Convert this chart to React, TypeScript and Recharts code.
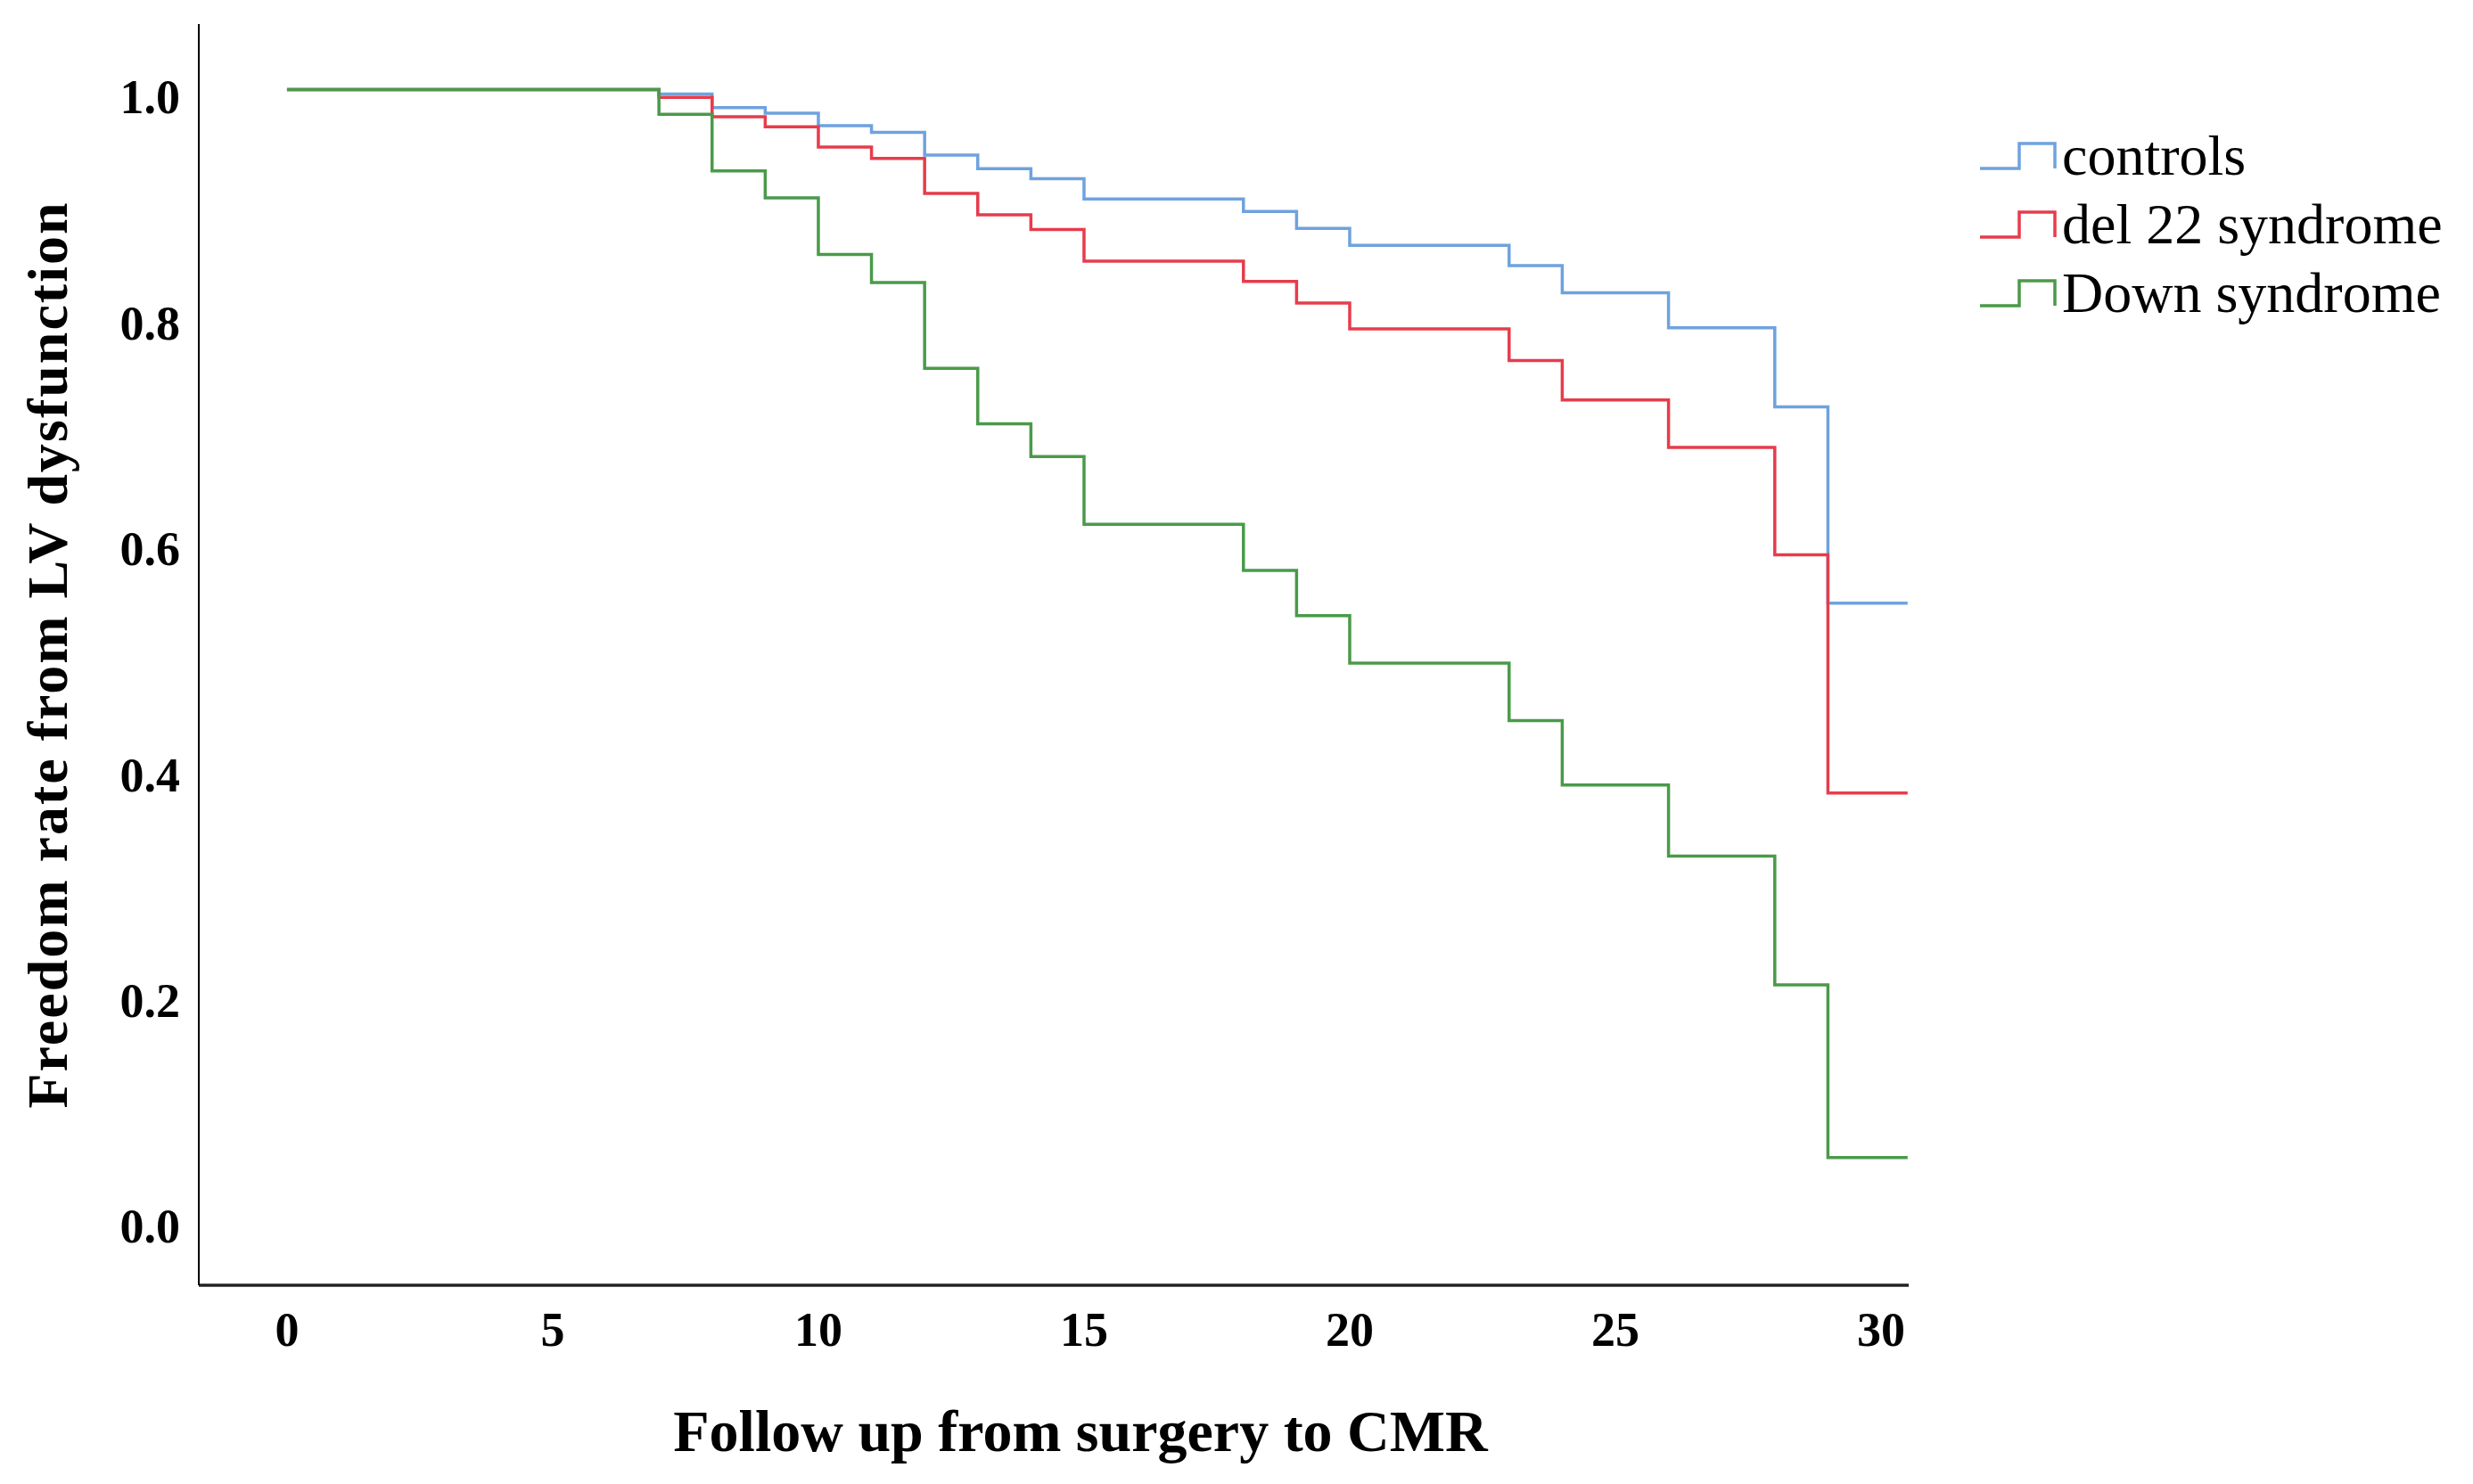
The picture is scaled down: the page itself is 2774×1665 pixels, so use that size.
import React from 'react';
import { LineChart, Line, XAxis, YAxis, Legend, Label } from 'recharts';

// follow-up times (event times of the Kaplan-Meier steps)
const times = [0, 7, 8, 9, 10, 11, 12, 13, 14, 15, 18, 19, 20, 23, 24, 26, 28, 29, 30.5];

const controls = [1.0, 0.996, 0.984, 0.979, 0.968, 0.962, 0.942, 0.93, 0.921, 0.903, 0.892, 0.877, 0.862, 0.844, 0.82, 0.789, 0.719, 0.545, 0.545];
const del22 = [1.0, 0.993, 0.976, 0.967, 0.949, 0.939, 0.908, 0.889, 0.876, 0.848, 0.83, 0.811, 0.788, 0.76, 0.725, 0.683, 0.588, 0.377, 0.377];
const down = [1.0, 0.978, 0.928, 0.904, 0.854, 0.829, 0.753, 0.704, 0.675, 0.615, 0.574, 0.534, 0.492, 0.441, 0.384, 0.321, 0.207, 0.054, 0.054];

const seriesNames = ['controls', 'del 22 syndrome', 'Down syndrome'];
const seriesKeys = ['controls', 'del22', 'down'];
const seriesColors = ['#6FA2DE', '#E63C4C', '#4A9A4A'];

const xTicks = [0, 5, 10, 15, 20, 25, 30];
const yTicks = [0, 0.2, 0.4, 0.6, 0.8, 1.0];

const data = times.map((t, i) => ({
  time: t,
  controls: controls[i],
  del22: del22[i],
  down: down[i],
}));

const serif = '"Liberation Serif", "Times New Roman", serif';

const YTick = (props: any) => {
  const { x, y, payload } = props;
  return (
    <text x={x} y={y + 9} textAnchor="end" dominantBaseline="central"
      fontFamily={serif} fontWeight="bold" fontSize={54} fill="#000">
      {Number(payload.value).toFixed(1)}
    </text>
  );
};

const StepIcon = ({ color }: { color: string }) => (
  <svg width={90} height={36} style={{ display: 'block' }}>
    <path d="M2,32 H46 V4 H86 V32" fill="none" stroke={color} strokeWidth={3.5} />
  </svg>
);

const renderLegend = (props: any) => {
  const payload = [...(props.payload || [])].sort(
    (a: any, b: any) => seriesNames.indexOf(a.value) - seriesNames.indexOf(b.value)
  );
  return (
    <div>
      {payload.map((entry: any) => (
        <div key={entry.value} style={{ display: 'flex', alignItems: 'center', height: 77 }}>
          <StepIcon color={entry.color} />
          <span style={{ fontFamily: serif, fontSize: 64, color: '#000', marginLeft: 4, lineHeight: '77px' }}>
            {entry.value}
          </span>
        </div>
      ))}
    </div>
  );
};

export default function App() {
  return (
    <div style={{ position: 'absolute', left: 0, top: 0, width: 2774, height: 1665, background: '#fff' }}>
      <LineChart
        width={2774}
        height={1665}
        data={data}
        margin={{ top: 27, right: 633, bottom: 123, left: 53 }}
      >
        <XAxis
          dataKey="time"
          type="number"
          domain={[-1.66, 30.52]}
          ticks={xTicks}
          allowDataOverflow
          height={100}
          tickLine={false}
          tickSize={0}
          tickMargin={30}
          axisLine={{ stroke: '#222', strokeWidth: 3.5 }}
          tick={{ fill: '#000', fontFamily: serif, fontWeight: 'bold', fontSize: 54 }}
        >
          <Label
            content={(p: any) => {
              const vb = p.viewBox;
              return (
                <text x={vb.x + vb.width / 2 + 30} y={vb.y + 163} textAnchor="middle" dominantBaseline="central"
                  fontFamily={serif} fontWeight="bold" fontSize={66} fill="#000">
                  Follow up from surgery to CMR
                </text>
              );
            }}
          />
        </XAxis>
        <YAxis
          type="number"
          domain={[-0.059, 1.058]}
          ticks={yTicks}
          allowDataOverflow
          width={170}
          tickLine={false}
          tickSize={0}
          tickMargin={21}
          axisLine={{ stroke: '#000', strokeWidth: 2 }}
          tick={<YTick />}
        >
          <Label
            content={(p: any) => {
              const vb = p.viewBox;
              const cx = vb.x;
              const cy = vb.y + vb.height / 2;
              return (
                <text x={cx} y={cy} textAnchor="middle" dominantBaseline="central"
                  transform={`rotate(-90 ${cx} ${cy})`}
                  fontFamily={serif} fontWeight="bold" fontSize={64} letterSpacing={2} fill="#000">
                  Freedom rate from LV dysfunction
                </text>
              );
            }}
          />
        </YAxis>
        <Legend
          layout="vertical"
          verticalAlign="middle"
          align="center"
          content={renderLegend}
          wrapperStyle={{ left: 2219, top: 136, width: 555 }}
        />
        {seriesKeys.map((k, i) => (
          <Line
            key={k}
            type="stepAfter"
            dataKey={k}
            name={seriesNames[i]}
            stroke={seriesColors[i]}
            strokeWidth={3.5}
            dot={false}
            activeDot={false}
            isAnimationActive={false}
          />
        ))}
      </LineChart>
    </div>
  );
}
